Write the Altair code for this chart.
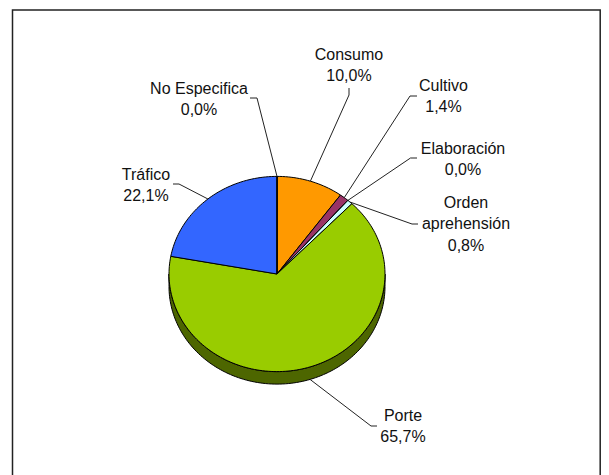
import math
import altair as alt
import pandas as pd

# values, clockwise from 12 o'clock
names = ["Consumo", "Cultivo", "Elaboración", "Orden aprehensión", "Porte", "Tráfico", "No Especifica"]
values = [10.0, 1.4, 0.0, 0.8, 65.7, 22.1, 0.0]
colors = ["#FF9900", "#993366", "#FFFFFF", "#CCFFFF", "#99CC00", "#3366FF", "#FFFFFF"]
label_lines = [["Consumo", "10,0%"], ["Cultivo", "1,4%"], ["Elaboración", "0,0%"],
               ["Orden", "aprehensión", "0,8%"], ["Porte", "65,7%"], ["Tráfico", "22,1%"],
               ["No Especifica", "0,0%"]]

# layout, in page pixels
W, H = 593, 467
CX, CY, RX, RY, DEPTH = 277.0, 274.0, 108.0, 97.6, 12.5
WALL = "#4D6600"
label_x = [349, 443.5, 463, 466, 403, 146, 199]
label_y = [55, 86, 149, 203, 416, 175, 89]
line_gap = 21.3
elbow_a = [(349, 95), (410, 96), (410.5, 158), (412, 224), (371, 426), (179, 184), (257, 98)]
elbow_b = [(349, 88), (417, 96), (417, 158), (418, 224), (377, 426), (173, 184), (250, 98)]
frame_x = [12.5, 12.5, 600.2, 600.2]
frame_y = [475, 10, 10, 475]


def rim(pct, drop=0.0):
    t = math.radians(pct * 3.6)
    return CX + RX * math.sin(t), CY - RY * math.cos(t) + drop


slices, leaders, texts = [], [], []
cum = 0.0
for k, (n, v) in enumerate(zip(names, values)):
    n_steps = max(1, int(round(v * 3.6 / 1.5)))
    pts = [(CX, CY)] + [rim(cum + v * j / n_steps) for j in range(n_steps + 1)]
    for i, (x, y) in enumerate(pts):
        slices.append({"name": n, "i": i, "x": x, "y": y})
    mid = cum + v / 2
    drop = DEPTH if n == "Porte" else 0.0
    a = rim(mid, drop)
    for i, (x, y) in enumerate([a, elbow_a[k], elbow_b[k]]):
        leaders.append({"name": n, "i": i, "x": x, "y": y})
    for j, t in enumerate(label_lines[k]):
        texts.append({"t": t, "x": label_x[k], "y": label_y[k] + j * line_gap})
    cum += v

wall = []
steps = 120
for j in range(steps + 1):
    x, y = rim(25 + 50 * j / steps, DEPTH)
    wall.append({"i": j, "x": x, "y": y})
for j in range(steps + 1):
    x, y = rim(75 - 50 * j / steps)
    wall.append({"i": steps + 1 + j, "x": x, "y": y})

frame = [{"i": i, "x": x, "y": y} for i, (x, y) in enumerate(zip(frame_x, frame_y))]

xs = alt.Scale(domain=[8, 8 + W], range=[0, W], nice=False, zero=False)
ys = alt.Scale(domain=[8 + H, 8], range=[H, 0], nice=False, zero=False)
X = alt.X("x:Q", scale=xs, axis=None)
Y = alt.Y("y:Q", scale=ys, axis=None)
O = alt.Order("i:Q")

frame_l = alt.Chart(pd.DataFrame(frame)).mark_line(color="#222222", strokeWidth=1.5).encode(x=X, y=Y, order=O)
wall_l = alt.Chart(pd.DataFrame(wall)).mark_line(
    interpolate="linear-closed", fill=WALL, stroke="black", strokeWidth=1
).encode(x=X, y=Y, order=O)
slice_l = alt.Chart(pd.DataFrame(slices)).mark_line(
    interpolate="linear-closed", stroke="black", strokeWidth=1
).encode(
    x=X, y=Y, order=O,
    fill=alt.Fill("name:N", scale=alt.Scale(domain=names, range=colors), legend=None),
    detail="name:N",
)
leader_l = alt.Chart(pd.DataFrame(leaders)).mark_line(color="#222222", strokeWidth=1).encode(
    x=X, y=Y, order=O, detail="name:N"
)
text_l = alt.Chart(pd.DataFrame(texts)).mark_text(
    font="Liberation Sans", fontSize=16, color="#111111", align="center", baseline="middle"
).encode(x=X, y=Y, text="t:N")

chart = (frame_l + wall_l + slice_l + leader_l + text_l).properties(
    width=W, height=H, padding=0, autosize=alt.AutoSizeParams(type="none")
).configure_view(stroke=None)

chart.save("out.html", embed_options={"renderer": "svg", "actions": False})
